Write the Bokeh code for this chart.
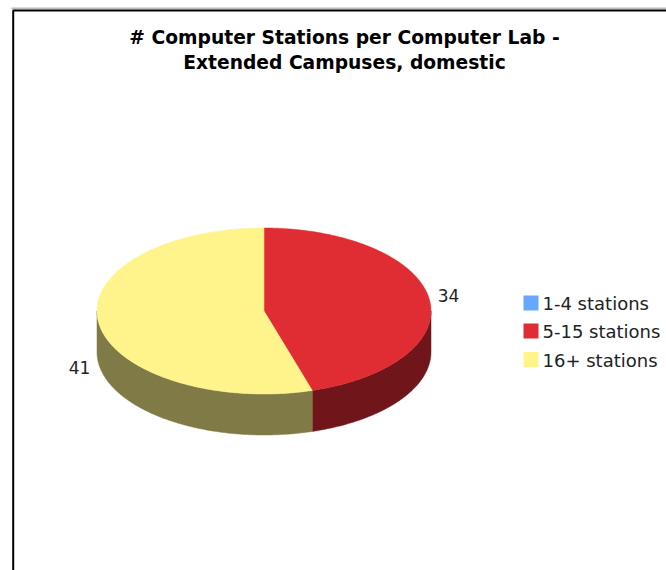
import numpy as np
from bokeh.embed import file_html
from bokeh.models import Range1d
from bokeh.plotting import figure
from bokeh.resources import INLINE
from bokeh.core.properties import value

title_lines = ["# Computer Stations per Computer Lab -", "Extended Campuses, domestic"]
categories = ["1-4 stations", "5-15 stations", "16+ stations"]
values = [0, 34, 41]
top_colors = ["#66A8FF", "#E02D33", "#FFF48C"]
side_colors = ["#33547F", "#701519", "#807A46"]

W, H = 666, 570
CX, CY, RX, RY, DEPTH = 263.5, 310.5, 167, 83, 41
FONT = value("DejaVu Sans")

p = figure(width=W, height=H, output_backend="svg", toolbar_location=None,
           x_range=Range1d(0, W), y_range=Range1d(H, 0), min_border=0,
           outline_line_color=None, background_fill_color="white", border_fill_color="white")
p.axis.visible = False
p.grid.visible = False

# chart-area border (left and top edges; the rest is cropped by the window)
p.line([11, 666], [8, 8], line_color="#BBBBBB", line_width=2)
p.line([12.7, 12.7, 666], [570, 10, 10], line_color="black", line_width=2)

total = sum(values)
starts = np.cumsum([0] + values[:-1]) / total * 2 * np.pi
ends = np.cumsum(values) / total * 2 * np.pi

def ex(t): return CX + RX * np.sin(t)
def ey(t): return CY - RY * np.cos(t)

# side walls: only the front half (pi/2 .. 3pi/2) is visible
for v, a, b, col in zip(values, starts, ends, side_colors):
    lo, hi = max(a, np.pi / 2), min(b, 3 * np.pi / 2)
    if v == 0 or lo >= hi:
        continue
    t = np.linspace(lo, hi, 200)
    xs = np.r_[ex(t), ex(t[::-1])]
    ys = np.r_[ey(t), ey(t[::-1]) + DEPTH]
    p.patch(xs, ys, fill_color=col, line_color=col, line_width=0.5)

# top faces
for v, a, b, col in zip(values, starts, ends, top_colors):
    if v == 0:
        continue
    t = np.linspace(a, b, 300)
    p.patch(np.r_[CX, ex(t)], np.r_[CY, ey(t)], fill_color=col, line_color=col, line_width=0.5)

# data labels
label_x = [448, 79]
label_y = [295, 367]
p.text(label_x, label_y, text=[str(v) for v in values[1:]], text_font=FONT, text_font_size="17px",
       text_color="#222222", text_align="center", text_baseline="middle")

# title
p.text([344, 344], [37, 61.5], text=title_lines, text_font=FONT, text_font_size="18.7px",
       text_font_style="bold", text_color="black", text_align="center", text_baseline="middle")

# legend
leg_y = [302.5, 330.5, 359]
p.rect([530.5] * 3, leg_y, width=15, height=15, fill_color=top_colors, line_color=None)
p.text([542] * 3, [303, 331, 360], text=categories, text_font=FONT, text_font_size="18px",
       text_color="#222222", text_align="left", text_baseline="middle")

open("out.html", "w").write(file_html(p, INLINE))
